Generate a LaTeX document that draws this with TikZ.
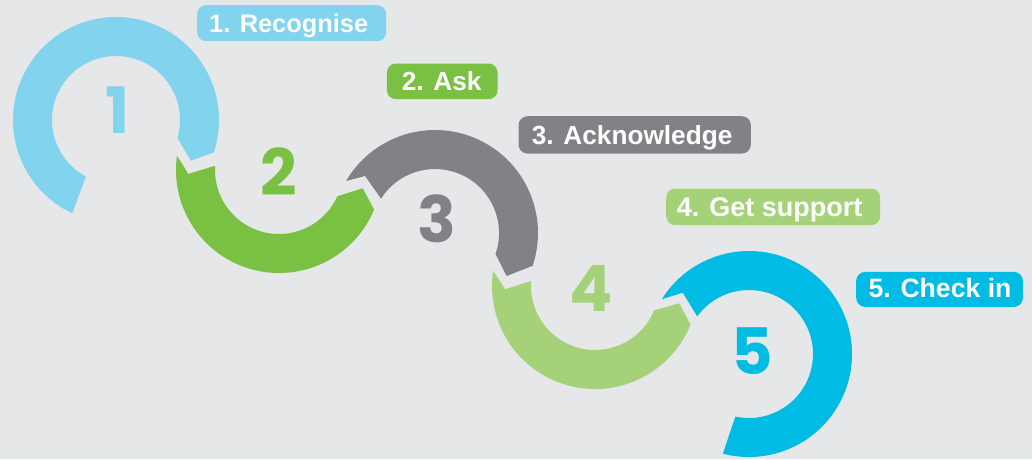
\documentclass[tikz,border=0pt]{standalone}
\usepackage{fontspec}
\setmainfont{Liberation Sans}
\newfontfamily\labfont{Liberation Sans}
\newfontfamily\numfont{Poppins}
\usetikzlibrary{calc}
\definecolor{bgc}{HTML}{E6E7E8}
\definecolor{cone}{HTML}{81D3EE}
\definecolor{ctwo}{HTML}{7AC143}
\definecolor{cthree}{HTML}{808285}
\definecolor{cfour}{HTML}{A5D279}
\definecolor{cfive}{HTML}{00BBE3}
\tikzset{
  labbox/.style={rounded corners=9pt, inner sep=0pt, draw=none},
  labtext/.style={inner sep=0pt, text=white, font=\labfont\fontsize{#1}{26}\selectfont\bfseries},
  numtext/.style={inner sep=0pt, font=\numfont\fontsize{64}{64}\selectfont\bfseries},
}
\begin{document}
\begin{tikzpicture}[x=1pt,y=1pt]
\fill[bgc] (0,0) rectangle (1032,-459);
\useasboundingbox (0,0) rectangle (1032,-459);
\coordinate (c1) at (116,-120);
\coordinate (c2) at (279,-170);
\coordinate (c3) at (435,-233);
\coordinate (c4) at (595,-286);
\coordinate (c5) at (749,-354);
% band 1
\fill[cone] ($(c1)+(244.9:103)$) arc[start angle=244.9,end angle=-18.4,radius=103]
  -- ($(c1)+(-28.5:85.3)$) -- ($(c1)+(-16.4:64)$)
  arc[start angle=-16.4,end angle=241.9,radius=64] -- cycle;
% band 2
\fill[ctwo] ($(c2)+(172:103)$) -- ($(c2)+(182.5:90.8)$) -- ($(c2)+(176.2:64)$)
  arc[start angle=176.2,end angle=335.8,radius=64]
  -- ($(c2)+(347.7:85.7)$) -- ($(c2)+(337.4:103)$)
  arc[start angle=337.4,end angle=172,radius=103] -- cycle;
% band 3
\fill[cthree] ($(c3)+(149.7:103)$) arc[start angle=149.7,end angle=-18.5,radius=103]
  -- ($(c3)+(-31:83.6)$) -- ($(c3)+(-19.1:64)$)
  arc[start angle=-19.1,end angle=147.5,radius=64]
  -- ($(c3)+(140.8:90.3)$) -- cycle;
% band 4
\fill[cfour] ($(c4)+(171.5:103)$) -- ($(c4)+(182.1:90)$) -- ($(c4)+(175.5:64)$)
  arc[start angle=175.5,end angle=337.6,radius=64]
  -- ($(c4)+(348.4:86)$) -- ($(c4)+(338:103)$)
  arc[start angle=338,end angle=171.5,radius=103] -- cycle;
% band 5
\fill[cfive] ($(c5)+(147.9:103)$) arc[start angle=147.9,end angle=-104.7,radius=103]
  -- ($(c5)+(-102.3:64)$)
  arc[start angle=-102.3,end angle=144,radius=64]
  -- ($(c5)+(137.2:90.3)$) -- cycle;
% numbers
\node[numtext, text=cone] (n1) at (117.5,-110.5) {1};
\node[numtext, text=ctwo] (n2) at (279,-171.5) {2};
\node[numtext, text=cthree] (n3) at (436.7,-218.3) {3};
\node[numtext, text=cfour] (n4) at (590.8,-288.7) {4};
\node[numtext, text=cfive] (n5) at (752,-351) {5};
% labels
\node[labbox, fill=cone, minimum width=189pt, minimum height=36pt, anchor=north west] (b1) at (197,-5) {};
\node[labtext=25.4, anchor=base west] (t1) at (209,-32.7) {1. Recognise};
\node[labbox, fill=ctwo, minimum width=110.6pt, minimum height=35.7pt, anchor=north west] (b2) at (386.7,-63.3) {};
\node[labtext=26.2, anchor=base west] (t2) at (401.7,-90.7) {2. Ask};
\node[labbox, fill=cthree, minimum width=232.4pt, minimum height=37.3pt, anchor=north west] (b3) at (518.3,-116) {};
\node[labtext=26.2, anchor=base west] (t3) at (531.7,-144.2) {3. Acknowledge};
\node[labbox, fill=cfour, minimum width=214pt, minimum height=36.7pt, anchor=north west] (b4) at (666,-188.3) {};
\node[labtext=27, anchor=base west] (t4) at (676.7,-216) {4. Get support};
\node[labbox, fill=cfive, minimum width=166.7pt, minimum height=35pt, anchor=north west] (b5) at (856,-271.7) {};
\node[labtext=26.6, anchor=base west] (t5) at (868.3,-297.5) {5. Check in};
\end{tikzpicture}
\end{document}
